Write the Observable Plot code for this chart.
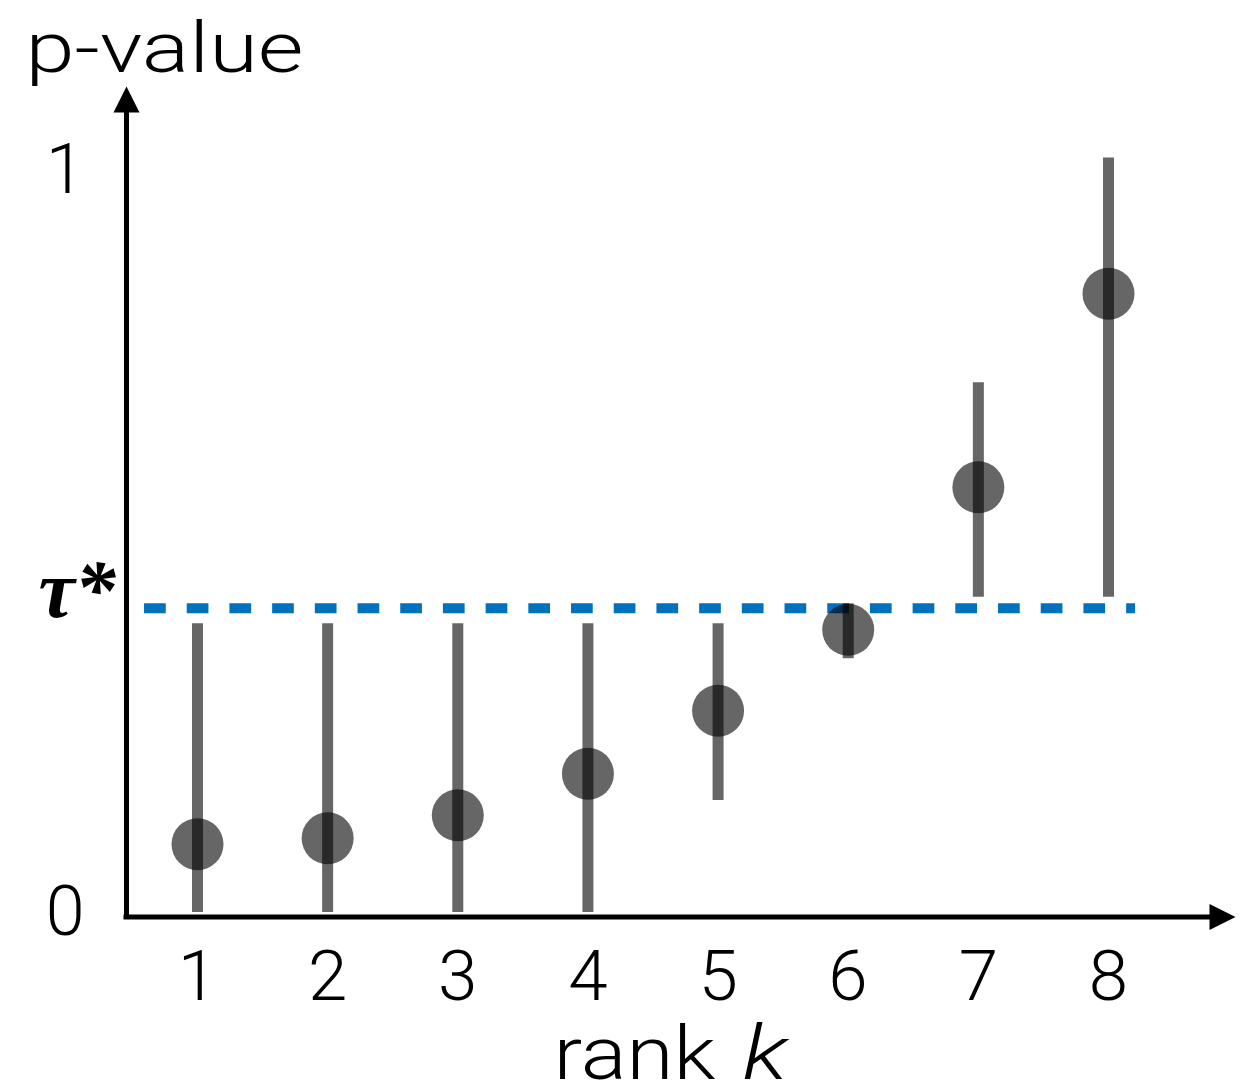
<!DOCTYPE html>
<html><head><meta charset="utf-8">
<script src="https://cdn.jsdelivr.net/npm/d3@7"></script>
<script src="https://cdn.jsdelivr.net/npm/@observablehq/plot@0.6"></script>
<style>
html,body{margin:0;padding:0;background:#fff;}
</style></head><body><div id="chart"></div>
<script>
// ---- data ----
const ranks = [1, 2, 3, 4, 5, 6, 7, 8];
const pValues = [0.092, 0.100, 0.131, 0.187, 0.272, 0.381, 0.573, 0.834];
const lowerBounds = [0, 0, 0, 0, 0.151, 0.342, 0.425, 0.425];
const upperBounds = [0.389, 0.389, 0.389, 0.389, 0.389, 0.416, 0.714, 1.017];
const tauStar = 0.41;
const tauExtent = [0.593, 8.208];
const xTicks = [1, 2, 3, 4, 5, 6, 7, 8];
const yTicks = [0, 1];
const yTickLabels = ["0", "1"];
const axisOrigin = [0.4544, -0.006];
const axisEnds = [8.776, 1.078];

const data = ranks.map((k, i) => ({k, p: pValues[i], lo: lowerBounds[i], hi: upperBounds[i]}));

// filled arrow head, anchored at the middle of its base, pointing up
const arrowHead = {draw(ctx) { ctx.moveTo(0, -26); ctx.lineTo(13, 0); ctx.lineTo(-13, 0); ctx.closePath(); }};

const sans = "Roboto, 'Helvetica Neue', Helvetica, Arial, sans-serif";
// rendered widths of the (wide, light) title texts in the reference
const textWidths = {"p-value": 278, "rank": 162, "k": 45, "τ*": 77};

const chart = Plot.plot({
  width: 1244, height: 1088,
  marginLeft: 126, marginRight: 9, marginTop: 86, marginBottom: 171.5,
  x: {domain: [1, 8], range: [197, 1108]},
  y: {domain: [0, 1], range: [912, 170]},
  style: {fontFamily: sans, fontWeight: 300, background: "white", color: "black"},
  marks: [
    Plot.ruleY([tauStar], {x1: tauExtent[0], x2: tauExtent[1], stroke: "#0072bd", strokeWidth: 10, strokeDasharray: "21.7,21"}),
    Plot.ruleX(data, {x: "k", y1: "lo", y2: "hi", stroke: "black", strokeOpacity: 0.6, strokeWidth: 11}),
    Plot.dot(data, {x: "k", y: "p", r: 26, fill: "black", fillOpacity: 0.6, stroke: null}),
    // axes with arrows
    Plot.ruleX([axisOrigin[0]], {y1: axisOrigin[1], y2: axisEnds[1], stroke: "black", strokeWidth: 5, strokeLinecap: "square"}),
    Plot.ruleY([axisOrigin[1]], {x1: axisOrigin[0], x2: axisEnds[0], stroke: "black", strokeWidth: 5, strokeLinecap: "square"}),
    Plot.dot([[axisOrigin[0], axisEnds[1]]], {x: d => d[0], y: d => d[1], symbol: arrowHead, r: 10, fill: "black", stroke: null}),
    Plot.dot([[axisEnds[0], axisOrigin[1]]], {x: d => d[0], y: d => d[1], symbol: arrowHead, r: 10, rotate: 90, fill: "black", stroke: null}),
    Plot.axisY(yTicks, {tickSize: 0, tickPadding: 42, fontSize: 70, label: null, tickFormat: d => yTickLabels[yTicks.indexOf(d)]}),
    Plot.axisX(xTicks, {tickSize: 0, tickPadding: 33, fontSize: 71, label: null, tickFormat: d => String(d)}),
    Plot.text([tauStar], {y: d => d, frameAnchor: "left", textAnchor: "end", lineAnchor: "bottom", dx: -11, dy: 9,
      text: () => "τ*", fontFamily: "'Liberation Serif', 'Times New Roman', serif", fontWeight: "bold", fontStyle: "italic", fontSize: 82}),
    Plot.text(["p-value"], {frameAnchor: "top-left", textAnchor: "start", lineAnchor: "bottom", dx: -101, dy: -15, fontSize: 70}),
    Plot.text(["rank"], {frameAnchor: "bottom", textAnchor: "end", lineAnchor: "bottom", dx: 34.5, dy: 162, fontSize: 75}),
    Plot.text(["k"], {frameAnchor: "bottom", textAnchor: "start", lineAnchor: "bottom", dx: 61.5, dy: 162, fontSize: 75, fontStyle: "italic"})
  ]
});
d3.select(chart).selectAll("text").each(function() {
  const w = textWidths[this.textContent];
  if (w && !this.querySelector("tspan")) {
    this.setAttribute("textLength", w);
    this.setAttribute("lengthAdjust", "spacingAndGlyphs");
  }
});
document.getElementById("chart").appendChild(chart);
</script></body></html>
